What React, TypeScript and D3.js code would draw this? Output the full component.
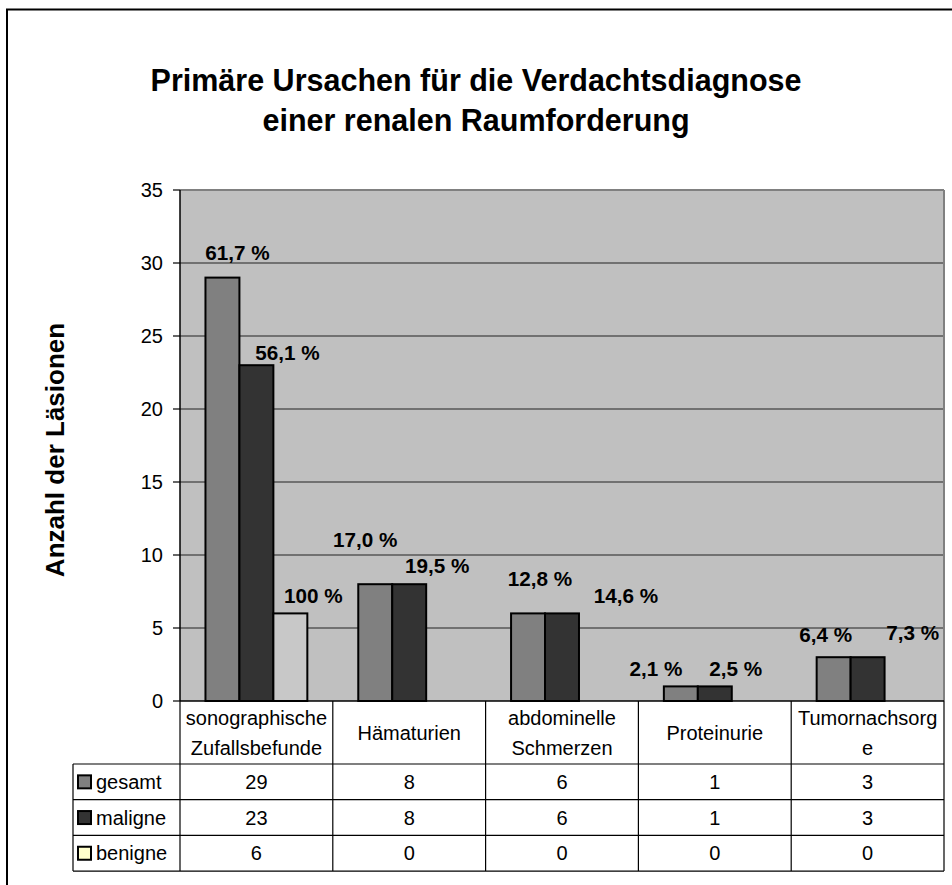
import React from 'react';
import * as d3 from 'd3';

// ---------- data ----------
const categories = ['sonographische\nZufallsbefunde', 'Hämaturien', 'abdominelle\nSchmerzen', 'Proteinurie', 'Tumornachsorg\ne'];
const seriesNames = ['gesamt', 'maligne', 'benigne'];
const gesamt = [29, 8, 6, 1, 3];
const maligne = [23, 8, 6, 1, 3];
const benigne = [6, 0, 0, 0, 0];
const gesamtPct = ['61,7 %', '17,0 %', '12,8 %', '2,1 %', '6,4 %'];
const malignePct = ['56,1 %', '19,5 %', '14,6 %', '2,5 %', '7,3 %'];
const beniignePct = ['100 %', '', '', '', ''];
const yTicks = [0, 5, 10, 15, 20, 25, 30, 35];
const titleLines = ['Primäre Ursachen für die Verdachtsdiagnose', 'einer renalen Raumforderung'];
const yAxisTitle = 'Anzahl der Läsionen';

// ---------- layout / style (not data) ----------
const W = 952, H = 885;
const FONT = '"Liberation Sans", Arial, sans-serif';
const SX = 1;
const plot = { left: 180, right: 944, top: 190, bottom: 701 };
const table = { left: 73, headerBottom: 764, rowH: 35.7 };
const barFill = ['#808080', '#333333', '#c8c8c8'];
const legendFill = ['#808080', '#333333', '#ffffcc'];
// manual label nudges relative to bar centre / bar top (px)
const labelNudge = [
  [[15, -18], [-10, -37], [12, -27], [-25, -10], [-8, -15]],
  [[31, -5], [28, -11], [64, -10], [21, -10], [45, -17]],
  [[23, -10], [0, 0], [0, 0], [0, 0], [0, 0]],
];

function T({ x, y, children, size = 18, weight = 'normal', anchor = 'middle', rotate = 0, fill = '#000' }: any) {
  const tr = rotate ? `translate(${x},${y}) rotate(${rotate}) scale(${SX},1)` : `translate(${x},${y}) scale(${SX},1)`;
  return (
    <text transform={tr} fontFamily={FONT} fontSize={size} fontWeight={weight} textAnchor={anchor} fill={fill}>
      {children}
    </text>
  );
}

export default function App() {
  const values = [gesamt, maligne, benigne];
  const pcts = [gesamtPct, malignePct, beniignePct];

  const x = d3.scaleBand<string>().domain(categories).range([plot.left, plot.right]).paddingInner(0).paddingOuter(0);
  const xs = d3.scaleBand<string>().domain(seriesNames).range([0, x.bandwidth()]).paddingInner(0).paddingOuter(0.75);
  const y = d3.scaleLinear().domain([0, 35]).range([plot.bottom, plot.top]);

  const rowTop = (i: number) => table.headerBottom + i * table.rowH;

  return (
    <svg width={W} height={H} style={{ position: 'absolute', left: 0, top: 0 }} xmlns="http://www.w3.org/2000/svg">
      <rect x={0} y={0} width={W} height={H} fill="#fff" />
      {/* chart frame */}
      <rect x={7} y={9.5} width={W + 20} height={H + 20} fill="#fff" stroke="#000" strokeWidth={2} />

      {/* title */}
      {titleLines.map((t, i) => (
        <T key={i} x={476} y={91 + i * 40} size={30.5} weight="bold">{t}</T>
      ))}

      {/* plot area */}
      <rect x={plot.left} y={plot.top} width={plot.right - plot.left} height={plot.bottom - plot.top} fill="#c0c0c0" />
      {yTicks.filter(t => t > 0 && t < 35).map(t => (
        <line key={t} x1={plot.left} x2={plot.right} y1={y(t)} y2={y(t)} stroke="#222" strokeWidth={1.2} />
      ))}
      <line x1={plot.left} x2={plot.right} y1={plot.top} y2={plot.top} stroke="#808080" strokeWidth={2} />
      <line x1={plot.right} x2={plot.right} y1={plot.top} y2={plot.bottom} stroke="#808080" strokeWidth={2} />

      {/* bars */}
      {values.map((vals, si) =>
        vals.map((v, ci) =>
          v > 0 ? (
            <rect
              key={`${si}-${ci}`}
              x={(x(categories[ci]) as number) + (xs(seriesNames[si]) as number)}
              y={y(v)}
              width={xs.bandwidth()}
              height={y(0) - y(v)}
              fill={barFill[si]}
              stroke="#000"
              strokeWidth={2}
            />
          ) : null
        )
      )}

      {/* y axis */}
      <line x1={plot.left} x2={plot.left} y1={plot.top} y2={plot.bottom} stroke="#000" strokeWidth={1.5} />
      {yTicks.map(t => (
        <g key={t}>
          <line x1={plot.left - 7} x2={plot.left} y1={y(t)} y2={y(t)} stroke="#000" strokeWidth={1.2} />
          <T x={163} y={y(t) + 7} size={20} anchor="end">{t}</T>
        </g>
      ))}
      <T x={64} y={450} size={26} weight="bold" rotate={-90}>{yAxisTitle}</T>

      {/* data labels */}
      {values.map((vals, si) =>
        vals.map((v, ci) => {
          const label = pcts[si][ci];
          if (!label) return null;
          const cx = (x(categories[ci]) as number) + (xs(seriesNames[si]) as number) + xs.bandwidth() / 2;
          const [dx, dy] = labelNudge[si][ci];
          return (
            <T key={`l${si}-${ci}`} x={cx + dx} y={y(v) + dy} size={20.7} weight="bold">{label}</T>
          );
        })
      )}

      {/* x axis line */}
      <line x1={plot.left} x2={plot.right} y1={plot.bottom} y2={plot.bottom} stroke="#000" strokeWidth={1.5} />

      {/* data table */}
      {categories.map((c, ci) => {
        const x0 = x(c) as number;
        const cx = x0 + x.bandwidth() / 2;
        const lines = c.split('\n');
        const mid = (plot.bottom + table.headerBottom) / 2;
        return (
          <g key={c}>
            {lines.map((l, li) => (
              <T key={li} x={cx} y={mid + 7 + (li - (lines.length - 1) / 2) * 30} size={20}>{l}</T>
            ))}
            {values.map((vals, si) => (
              <T key={si} x={cx} y={rowTop(si) + table.rowH / 2 + 7} size={20}>{vals[ci]}</T>
            ))}
          </g>
        );
      })}
      {/* table grid */}
      {[...categories.map(c => x(c) as number), plot.right].map((xx, i) => (
        <line key={`v${i}`} x1={xx} x2={xx} y1={plot.bottom} y2={rowTop(3)} stroke="#000" strokeWidth={1.2} />
      ))}
      <line x1={table.left} x2={table.left} y1={rowTop(0)} y2={rowTop(3)} stroke="#000" strokeWidth={1.2} />
      {[0, 1, 2, 3].map(i => (
        <line key={`h${i}`} x1={table.left} x2={plot.right} y1={rowTop(i)} y2={rowTop(i)} stroke="#000" strokeWidth={1.2} />
      ))}
      {/* legend keys */}
      {seriesNames.map((s, si) => (
        <g key={s}>
          <rect x={78} y={rowTop(si) + table.rowH / 2 - 6.5} width={13} height={13} fill={legendFill[si]} stroke="#000" strokeWidth={2} />
          <T x={96} y={rowTop(si) + table.rowH / 2 + 7} size={20} anchor="start">{s}</T>
        </g>
      ))}
    </svg>
  );
}
